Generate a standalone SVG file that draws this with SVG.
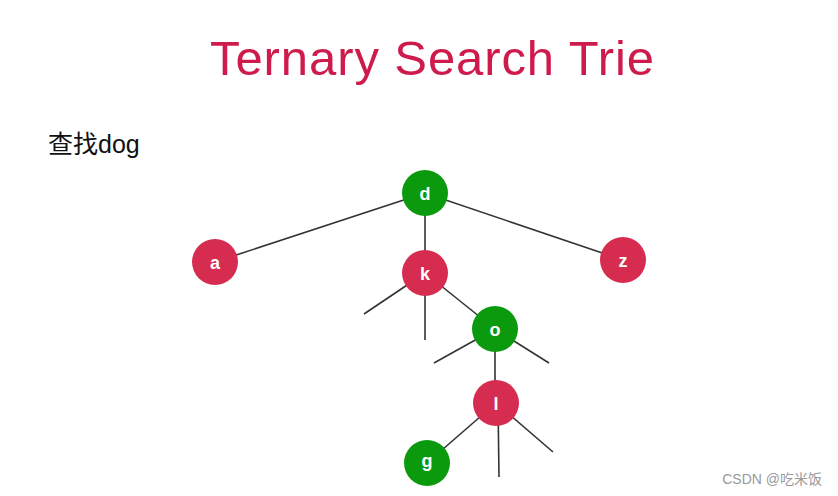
<svg xmlns="http://www.w3.org/2000/svg" width="838" height="496" viewBox="0 0 838 496">
<style>
.edge{stroke:#333;stroke-width:1.6;fill:none}
.red{fill:#d62c50}
.green{fill:#0b990d}
.lbl{font-family:"Liberation Sans",Arial,sans-serif;font-weight:bold;font-size:18px;fill:#fff;text-anchor:middle}
</style>
<rect width="838" height="496" fill="#fff"/>
<text x="432" y="75" font-family="Liberation Sans,Arial,sans-serif" font-size="49" fill="#cf1a4c" text-anchor="middle" textLength="444">Ternary Search Trie</text>
<text x="48" y="153" font-family="Liberation Sans,'Noto Sans CJK SC',sans-serif" font-size="25" fill="#111">查找dog</text>
<g id="connectors">
<line class="edge" x1="425" y1="193" x2="215" y2="262"/>
<line class="edge" x1="425" y1="193" x2="623" y2="260"/>
<line class="edge" x1="425" y1="193" x2="425" y2="273"/>
<line class="edge" x1="425" y1="273" x2="364" y2="314"/>
<line class="edge" x1="425" y1="273" x2="425" y2="340"/>
<line class="edge" x1="425" y1="273" x2="495" y2="329"/>
<line class="edge" x1="495" y1="329" x2="434" y2="363"/>
<line class="edge" x1="495" y1="329" x2="549" y2="363"/>
<line class="edge" x1="495" y1="329" x2="495" y2="403"/>
<line class="edge" x1="496" y1="403" x2="427" y2="463"/>
<line class="edge" x1="498" y1="403" x2="499" y2="477"/>
<line class="edge" x1="496" y1="403" x2="553" y2="452"/>
</g>
<g id="node-d"><circle class="green" cx="425" cy="193" r="23"/><text class="lbl" x="425" y="199.5">d</text></g>
<g id="node-a"><circle class="red" cx="215" cy="262" r="23"/><text class="lbl" x="215" y="268.5">a</text></g>
<g id="node-z"><circle class="red" cx="623" cy="260" r="23"/><text class="lbl" x="623" y="266.5">z</text></g>
<g id="node-k"><circle class="red" cx="425" cy="273" r="23"/><text class="lbl" x="425" y="279.5">k</text></g>
<g id="node-o"><circle class="green" cx="495" cy="329" r="23"/><text class="lbl" x="495" y="335.5">o</text></g>
<g id="node-l"><circle class="red" cx="496" cy="403" r="23"/><text class="lbl" x="496" y="409.5">l</text></g>
<g id="node-g"><circle class="green" cx="427" cy="463" r="23"/><text class="lbl" x="427" y="467">g</text></g>
<text x="822" y="484" font-family="Liberation Sans,'Noto Sans CJK SC',sans-serif" font-size="14" fill="#999" text-anchor="end">CSDN @吃米饭</text>
</svg>
